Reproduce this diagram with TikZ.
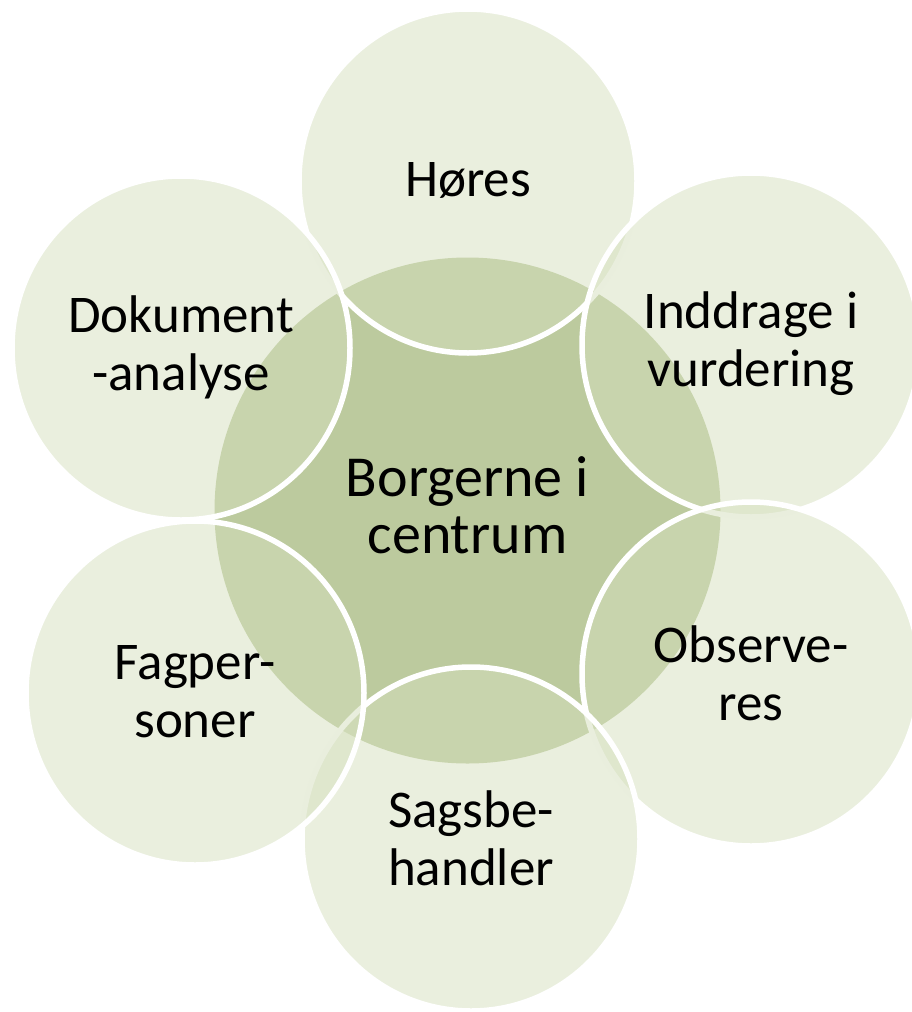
\documentclass[tikz,border=0pt]{standalone}
\usepackage{fontspec}
\setmainfont{Carlito}
\usetikzlibrary{shapes.geometric}
\definecolor{hubgreen}{RGB}{188,202,158}
\definecolor{petalgreen}{RGB}{213,223,189}
\begin{document}
\begin{tikzpicture}[x=1pt,y=-1pt,
  petal/.style={ellipse, minimum width=338pt, minimum height=344pt, inner sep=0pt,
    fill=petalgreen, fill opacity=0.5, draw=white, draw opacity=1, line width=5.5pt},
  hub/.style={circle, minimum size=506pt, inner sep=0pt, fill=hubgreen},
  lbl/.style={align=center, font=\fontsize{53}{58}\selectfont, text=black, inner sep=0pt},
  hublbl/.style={lbl, font=\fontsize{58}{57}\selectfont}]
\useasboundingbox (0,0) rectangle (912,1012);
\clip (0,0) rectangle (912,1012);
\node[hub] (hub) at (467.5,510.5) {};
\node[petal] (p1) at (468,181) {};
\node[petal] (p2) at (751,345) {};
\node[petal] (p3) at (751,674) {};
\node[petal] (p4) at (471,839) {};
\node[petal] (p5) at (195,693) {};
\node[petal] (p6) at (181,348) {};
\node[hublbl, yshift=5.5pt] (thub) at (hub.center) {Borgerne i\\centrum};
\node[lbl, yshift=1pt] (t1) at (p1.center) {Høres};
\node[lbl, yshift=1pt] (t2) at (p2.center) {Inddrage i\\vurdering};
\node[lbl, yshift=1pt] (t3) at (p3.center) {Observe-\\res};
\node[lbl, yshift=1pt] (t4) at (p4.center) {Sagsbe-\\handler};
\node[lbl, yshift=1pt] (t5) at (p5.center) {Fagper-\\soner};
\node[lbl, yshift=1pt] (t6) at (p6.center) {Dokument\\-analyse};
\end{tikzpicture}
\end{document}
